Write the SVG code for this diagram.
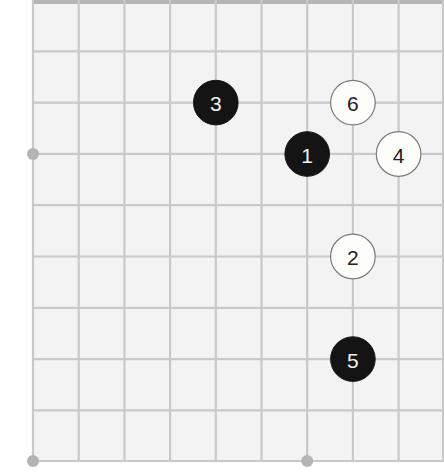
<svg xmlns="http://www.w3.org/2000/svg" width="444" height="476" viewBox="0 0 444 476">
<style>
.ln{stroke:#c9c9c9;stroke-width:2.2;fill:none}
.hoshi{fill:#b4b4b4}
.b circle{fill:#141414;stroke:#141414;stroke-width:1}
.w circle{fill:#fdfdf9;stroke:#7a7a7a;stroke-width:1.2}
text{font-family:"Liberation Sans",Arial,sans-serif;font-size:21px;text-anchor:middle;dominant-baseline:central}
.b text{fill:#f0f0f0}
.w text{fill:#222}
</style>
<rect x="0" y="0" width="444" height="476" fill="#ffffff"/>
<rect x="32" y="0" width="412" height="462" fill="#f3f3f3"/>
<g id="grid">
<rect x="32" y="0" width="412" height="4" fill="#b5b5b5"/>
<path class="ln" d="M33 0V462M78.7 0V462M124.4 0V462M170.1 0V462M215.8 0V462M261.5 0V462M307.2 0V462M352.9 0V462M398.6 0V462M443 0V462"/>
<path class="ln" d="M32 51.3H444M32 102.6H444M32 153.9H444M32 205.2H444M32 256.5H444M32 307.8H444M32 359.1H444M32 410.4H444M32 461H444"/>
<circle class="hoshi" cx="33" cy="154" r="6"/>
<circle class="hoshi" cx="33" cy="461" r="6"/>
<circle class="hoshi" cx="307.2" cy="461" r="6"/>
</g>
<g id="connectors"></g>
<g id="s1" class="b"><circle cx="307.2" cy="154" r="22.3"/><text x="307.2" y="155">1</text></g>
<g id="s2" class="w"><circle cx="352.9" cy="256.5" r="22.3"/><text x="352.9" y="257.5">2</text></g>
<g id="s3" class="b"><circle cx="215.8" cy="102.6" r="22.3"/><text x="215.8" y="103.6">3</text></g>
<g id="s4" class="w"><circle cx="398.6" cy="154" r="22.3"/><text x="398.6" y="155">4</text></g>
<g id="s5" class="b"><circle cx="352.9" cy="359.1" r="22.3"/><text x="352.9" y="360.1">5</text></g>
<g id="s6" class="w"><circle cx="352.9" cy="102.6" r="22.3"/><text x="352.9" y="103.6">6</text></g>
</svg>
